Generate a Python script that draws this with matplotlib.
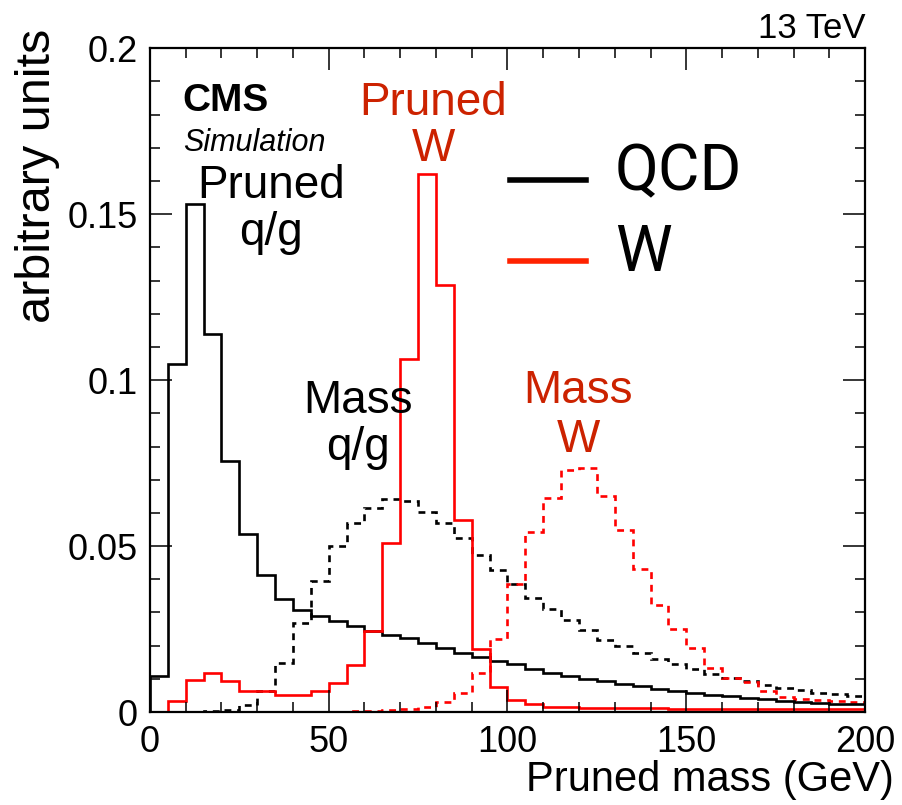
import numpy as np
import matplotlib.pyplot as plt
from matplotlib.lines import Line2D
from matplotlib.legend_handler import HandlerLine2D
from matplotlib.ticker import MultipleLocator

# bin edges: 40 bins of 5 GeV
EDGES = np.arange(0, 205, 5)

# pruned mass, QCD (black solid)
QCD_PRUNED = [0.0108, 0.105, 0.153, 0.114, 0.0756, 0.0536, 0.0412, 0.0341,
              0.0307, 0.0289, 0.0273, 0.0258, 0.0245, 0.0233, 0.0222, 0.0208,
              0.0193, 0.0178, 0.0167, 0.0154, 0.0144, 0.0129, 0.0118, 0.0108,
              0.0099, 0.0092, 0.0083, 0.0078, 0.0070, 0.0064, 0.0056, 0.0052,
              0.0048, 0.0043, 0.0038, 0.0034, 0.0030, 0.0027, 0.0024, 0.0023]

# pruned mass, W (red solid)
W_PRUNED = [0.0, 0.0033, 0.0098, 0.0119, 0.0093, 0.0062, 0.0062, 0.0051,
            0.0051, 0.0062, 0.0088, 0.0143, 0.0243, 0.0509, 0.1065, 0.162,
            0.1287, 0.0579, 0.0191, 0.0076, 0.0036, 0.0024, 0.0016, 0.0014,
            0.0012, 0.0012, 0.0011, 0.0011, 0.0011, 0.0010, 0.0010, 0.0010,
            0.0010, 0.0010, 0.0009, 0.0009, 0.0009, 0.0009, 0.0009, 0.0009]

# ungroomed mass, QCD (black dashed)
QCD_MASS = [0.0, 0.0, 0.0001, 0.0002, 0.0006, 0.0021, 0.0064, 0.0149,
            0.0269, 0.0396, 0.0499, 0.057, 0.0616, 0.0643, 0.0637, 0.0603,
            0.057, 0.0523, 0.0473, 0.0429, 0.0387, 0.0345, 0.0309, 0.0277,
            0.0247, 0.0217, 0.0199, 0.0179, 0.0159, 0.0144, 0.0129, 0.0116,
            0.0104, 0.0093, 0.0081, 0.0071, 0.0066, 0.0058, 0.0053, 0.0048]

# ungroomed mass, W (red dashed)
W_MASS = [0.0, 0.0001, 0.0001, 0.0001, 0.0001, 0.0001, 0.0001, 0.0001,
          0.0001, 0.0001, 0.0001, 0.0002, 0.0004, 0.0006, 0.0010, 0.0014,
          0.0031, 0.0058, 0.0119, 0.022, 0.0387, 0.0543, 0.0645, 0.0729,
          0.0736, 0.0652, 0.0549, 0.0432, 0.0321, 0.025, 0.0192, 0.0132,
          0.0103, 0.0091, 0.0064, 0.0044, 0.0039, 0.0036, 0.0033, 0.0031]

LEGEND_LABELS = ['QCD', 'W']

RED = '#ff0000'
TEXT_RED = '#cc2200'
FONT = ['Liberation Sans', 'DejaVu Sans']
DASH = (0, (2.6, 2.2))
LW = 1.9


class LowLine(HandlerLine2D):
    """ legend line sitting a bit under the middle of the label """

    def create_artists(self, legend, orig_handle, xdescent, ydescent,
                       width, height, fontsize, trans):
        arts = super().create_artists(legend, orig_handle, xdescent,
                                      ydescent, width, height, fontsize,
                                      trans)
        for a in arts:
            a.set_ydata(np.asarray(a.get_ydata()) - 0.19 * fontsize)
        return arts


plt.rcParams['font.family'] = FONT

fig = plt.figure(figsize=(9.03, 8.05), dpi=100)
ax = fig.add_axes([0.166, 0.1155, 0.792, 0.8245])

ax.stairs(QCD_MASS, EDGES, color='black', lw=LW, linestyle=DASH)
ax.stairs(W_MASS, EDGES, color=RED, lw=LW, linestyle=DASH)
ax.stairs(QCD_PRUNED, EDGES, color='black', lw=LW)
ax.stairs(W_PRUNED, EDGES, color=RED, lw=LW)

ax.set_xlim(0, 200)
ax.set_ylim(0, 0.2)
ax.xaxis.set_major_locator(MultipleLocator(50))
ax.xaxis.set_minor_locator(MultipleLocator(10))
ax.yaxis.set_major_locator(MultipleLocator(0.05))
ax.yaxis.set_minor_locator(MultipleLocator(0.01))
ax.set_xticks([0, 50, 100, 150, 200], ['0', '50', '100', '150', '200'])
ax.set_yticks([0, 0.05, 0.1, 0.15, 0.2], ['0', '0.05', '0.1', '0.15', '0.2'])

ax.tick_params(which='both', direction='in', top=True, right=True,
               width=1.1, labelsize=26)
ax.tick_params(which='major', length=16, pad=9)
ax.tick_params(which='minor', length=7.5)
for sp in ax.spines.values():
    sp.set_linewidth(1.6)

ax.set_xlabel('Pruned mass (GeV)', fontsize=30, ha='right')
ax.xaxis.set_label_coords(1.04, -0.072)
ax.set_ylabel('arbitrary units', fontsize=35, ha='right')
ax.yaxis.set_label_coords(-0.126, 1.03)

ax.text(1.0, 1.005, '13 TeV', transform=ax.transAxes, ha='right',
        va='bottom', fontsize=25)
ax.text(9.2, 0.181, 'CMS', fontsize=28, fontweight='bold')
ax.text(9.2, 0.169, 'Simulation', fontsize=22, style='italic')

ax.text(33.8, 0.155, 'Pruned', fontsize=33, ha='center')
ax.text(33.8, 0.1407, 'q/g', fontsize=33, ha='center')
ax.text(79.2, 0.180, 'Pruned', fontsize=33, ha='center', color=TEXT_RED)
ax.text(79.2, 0.166, 'W', fontsize=33, ha='center', color=TEXT_RED)
ax.text(58.2, 0.090, 'Mass', fontsize=33, ha='center')
ax.text(58.2, 0.0759, 'q/g', fontsize=33, ha='center')
ax.text(119.7, 0.093, 'Mass', fontsize=33, ha='center', color=TEXT_RED)
ax.text(119.7, 0.0783, 'W', fontsize=33, ha='center', color=TEXT_RED)

handles = [Line2D([], [], color='black', lw=4),
           Line2D([], [], color='#ff2200', lw=4)]
ax.legend(handles, LEGEND_LABELS, loc='upper left',
          bbox_to_anchor=(0.503, 0.86), frameon=False, borderpad=0,
          borderaxespad=0, handlelength=1.2, handletextpad=0.45,
          labelspacing=0.3, handler_map={Line2D: LowLine()},
          prop={'family': 'Roboto', 'size': 46})

fig.savefig('out.png', dpi=100)
